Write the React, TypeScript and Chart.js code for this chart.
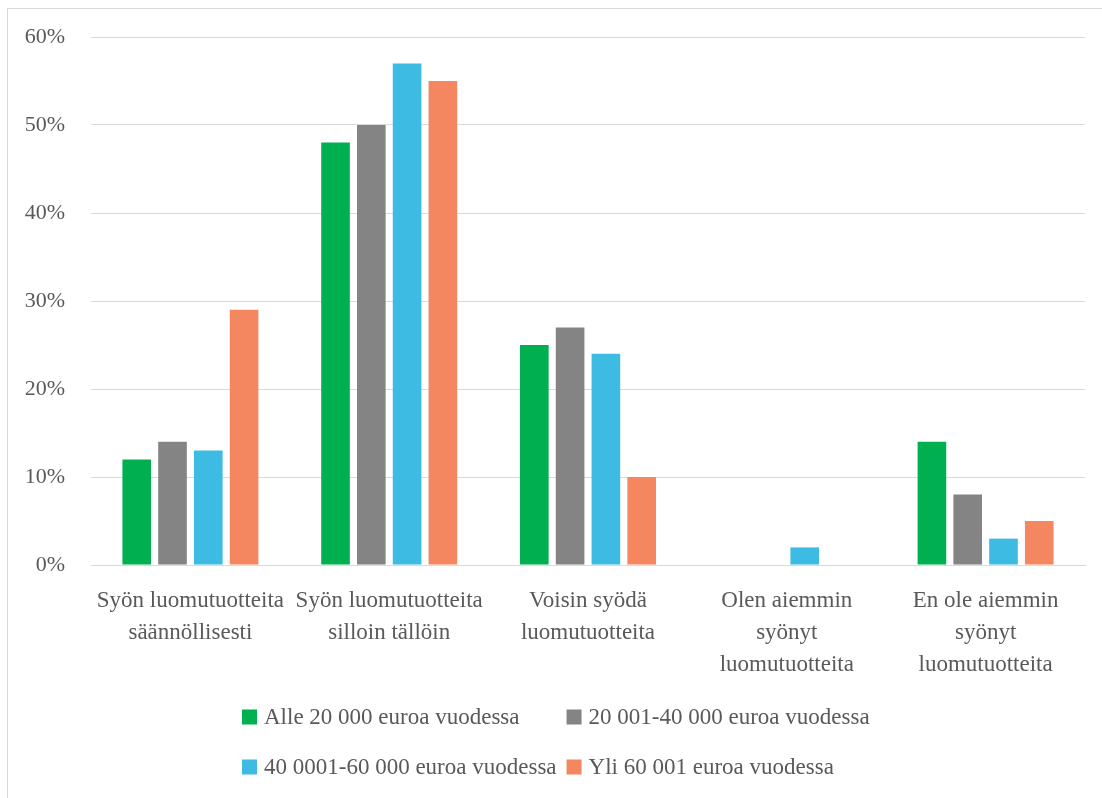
import React, { useEffect, useRef } from "react";
import { Chart, registerables } from "chart.js";

Chart.register(...registerables);

const categories: string[][] = [
  ["Syön luomutuotteita", "säännöllisesti"],
  ["Syön luomutuotteita", "silloin tällöin"],
  ["Voisin syödä", "luomutuotteita"],
  ["Olen aiemmin", "syönyt", "luomutuotteita"],
  ["En ole aiemmin", "syönyt", "luomutuotteita"],
];

const seriesLabels = [
  "Alle 20 000 euroa vuodessa",
  "20 001-40 000 euroa vuodessa",
  "40 0001-60 000 euroa vuodessa",
  "Yli 60 001 euroa vuodessa",
];

const alle20 = [12, 48, 25, 0, 14];
const v20to40 = [14, 50, 27, 0, 8];
const v40to60 = [13, 57, 24, 2, 3];
const yli60 = [29, 55, 10, 0, 5];

const colors = ["#00b050", "#848484", "#3dbbe2", "#f4875f"];

const yTicks = [0, 10, 20, 30, 40, 50, 60];

const FONT = "'Liberation Serif', 'DejaVu Serif', serif";
const TEXT = "#595959";

const legendPlugin = {
  id: "gridLegend",
  afterDraw(chart: any) {
    const ctx = chart.ctx as CanvasRenderingContext2D;
    const ds = chart.data.datasets;
    ctx.save();
    ctx.font = `23px ${FONT}`;
    ctx.textBaseline = "middle";
    ctx.textAlign = "left";
    const box = 15;
    const gap = 7;
    const x0 = 234;
    const rows = [708, 758];
    const w = (i: number) => box + gap + ctx.measureText(ds[i].label).width;
    const col2 = x0 + Math.max(w(0), w(2)) + 10;
    ds.forEach((d: any, i: number) => {
      const r = Math.floor(i / 2);
      const c = i % 2;
      const x = c === 0 ? x0 : col2;
      const y = rows[r];
      ctx.fillStyle = d.backgroundColor;
      ctx.fillRect(x, y - box / 2, box, box);
      ctx.fillStyle = TEXT;
      ctx.fillText(d.label, x + box + gap, y + 1);
    });
    ctx.restore();
  },
};

export default function App() {
  const ref = useRef<HTMLCanvasElement>(null);
  useEffect(() => {
    if (!ref.current) return;
    const values = [alle20, v20to40, v40to60, yli60];
    const chart = new Chart(ref.current, {
      type: "bar",
      data: {
        labels: categories,
        datasets: values.map((v, i) => ({
          label: seriesLabels[i],
          data: v,
          backgroundColor: colors[i],
          borderWidth: 0,
          categoryPercentage: 0.72,
          barPercentage: 0.8,
        })),
      },
      options: {
        animation: false,
        responsive: false,
        layout: { padding: { left: 0, right: 17, top: 28, bottom: 0 } },
        plugins: {
          legend: { display: false },
          tooltip: { enabled: false },
        },
        scales: {
          x: {
            grid: { display: false, drawTicks: false },
            border: { display: true, color: "#d9d9d9", width: 1 },
            ticks: {
              color: TEXT,
              font: { family: FONT, size: 23, lineHeight: 1.39 },
              maxRotation: 0,
              minRotation: 0,
              autoSkip: false,
              padding: 20,
            },
            afterFit(scale: any) {
              scale.height = 233;
            },
          },
          y: {
            min: 0,
            max: 60,
            grid: {
              color: "#d9d9d9",
              lineWidth: 1,
              drawTicks: true,
              tickLength: 22,
              tickColor: "rgba(0,0,0,0)",
            },
            border: { display: false },
            afterBuildTicks(scale: any) {
              scale.ticks = yTicks.map((v) => ({ value: v }));
            },
            ticks: {
              color: TEXT,
              font: { family: FONT, size: 22 },
              padding: 4,
              callback: (v: any) => `${v}%`,
            },
            afterFit(scale: any) {
              scale.width = 83;
            },
          },
        },
      },
      plugins: [legendPlugin],
    });
    return () => chart.destroy();
  }, []);
  return (
    <div
      style={{
        position: "fixed",
        left: 7,
        top: 8,
        width: 1100,
        height: 800,
        borderTop: "1px solid #d9d9d9",
        borderLeft: "1px solid #d9d9d9",
        background: "#fff",
        overflow: "hidden",
      }}
    >
      <canvas ref={ref} width={1094} height={789} style={{ display: "block" }} />
    </div>
  );
}
